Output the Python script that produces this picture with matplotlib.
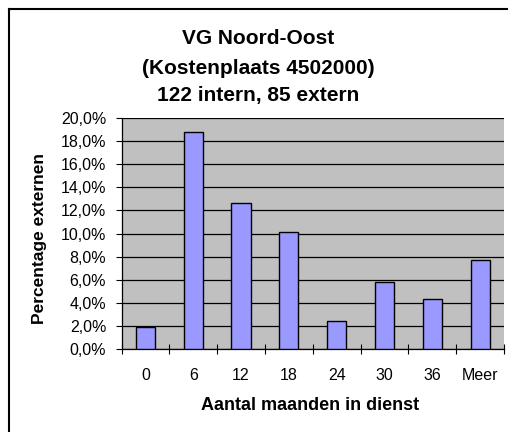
import matplotlib
matplotlib.use("Agg")
import matplotlib.pyplot as plt
from matplotlib.lines import Line2D
import numpy as np

categories = ["0", "6", "12", "18", "24", "30", "36", "Meer"]
values = [1.9, 18.8, 12.6, 10.1, 2.4, 5.8, 4.3, 7.7]
yticks = [0, 2, 4, 6, 8, 10, 12, 14, 16, 18, 20]
ytick_labels = [("%.1f%%" % v).replace(".", ",") for v in yticks]
title_lines = ["VG Noord-Oost", "(Kostenplaats 4502000)", "122 intern, 85 extern"]

plt.rcParams['font.family'] = ['Liberation Sans', 'DejaVu Sans']

W, H = 508, 432
fig = plt.figure(figsize=(W / 100, H / 100), dpi=100)
fig.patch.set_facecolor("white")

left, right, top, bottom = 121.5, 504, 118, 349
ax = fig.add_axes([left / W, 1 - bottom / H, (right - left) / W, (bottom - top) / H])
ax.set_facecolor("#C0C0C0")

x = np.arange(len(categories))
ax.bar(x, values, width=0.4, color="#9999FF", edgecolor="black", linewidth=1.0, zorder=3)

ax.set_xlim(-0.5, len(categories) - 0.5)
ax.set_ylim(0, 20)
ax.set_yticks(yticks)
ax.set_yticklabels(ytick_labels, fontsize=11.5)
ax.yaxis.grid(True, color="black", linewidth=0.9, zorder=1)
ax.set_axisbelow(True)

# x ticks between categories
ax.set_xticks(np.arange(-0.5, len(categories), 1.0))
ax.set_xticklabels([])
ax.tick_params(axis="x", direction="inout", length=7, width=0.8, color="black")
ax.set_xticks(x, minor=True)
ax.set_xticklabels(categories, minor=True, fontsize=11.5)
ax.tick_params(axis="x", which="minor", length=0, pad=14)
ax.tick_params(axis="y", direction="out", length=4.5, width=0.8, pad=6.5)

for s in ["top", "right"]:
    ax.spines[s].set_visible(False)
ax.spines["left"].set_linewidth(0.9)
ax.spines["bottom"].set_linewidth(0.9)

ax.set_xlabel("Aantal maanden in dienst", fontsize=13, fontweight="bold", va="center")
ax.xaxis.set_label_coords((310 - left) / (right - left), (bottom - 405.5) / (bottom - top))
ax.set_ylabel("Percentage externen", fontsize=12.5, fontweight="bold", va="center")
ax.yaxis.set_label_coords((40 - left) / (right - left), (bottom - 239) / (bottom - top))

for t, yy in zip(title_lines, [38, 68, 95]):
    fig.text(258 / W, 1 - yy / H, t, ha="center", va="center", fontsize=15, fontweight="bold")

# chart border (top and left visible)
fig.add_artist(Line2D([8.5 / W, 1.0], [1 - 8.5 / H, 1 - 8.5 / H], color="black", linewidth=1.5, transform=fig.transFigure))
fig.add_artist(Line2D([8.5 / W, 8.5 / W], [1 - 8.5 / H, 0.0], color="black", linewidth=1.5, transform=fig.transFigure))

fig.savefig("out.png", dpi=100)
